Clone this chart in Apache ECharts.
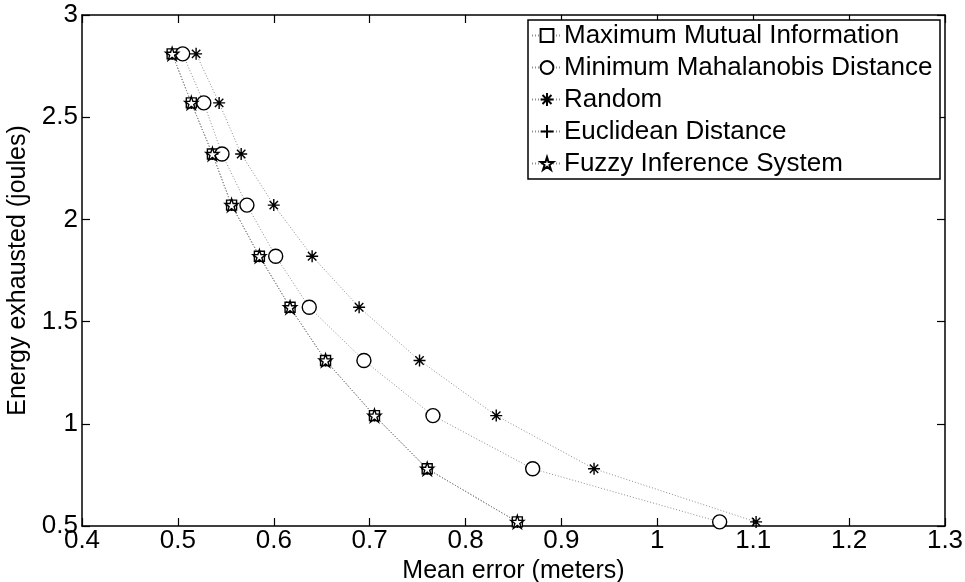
<!DOCTYPE html>
<html>
<head>
<meta charset="utf-8">
<script src="https://cdn.jsdelivr.net/npm/echarts@6/dist/echarts.min.js"></script>
<style>
  html, body { margin: 0; padding: 0; background: #fff; }
  #chart { width: 965px; height: 582px; }
</style>
</head>
<body>
<div id="chart"></div>
<script>
// Energy exhausted (joules) at each operating point
const energy = [2.81, 2.57, 2.32, 2.07, 1.82, 1.57, 1.31, 1.04, 0.78, 0.52];

// Mean error (meters) for each sensor-selection method
const maxMutualInfo   = [0.494, 0.514, 0.536, 0.556, 0.585, 0.617, 0.654, 0.705, 0.760, 0.854];
const minMahalanobis  = [0.505, 0.527, 0.546, 0.572, 0.602, 0.637, 0.694, 0.766, 0.870, 1.065];
const randomSel       = [0.519, 0.543, 0.566, 0.600, 0.640, 0.689, 0.752, 0.832, 0.934, 1.103];
const euclidean       = [0.494, 0.514, 0.536, 0.556, 0.585, 0.617, 0.654, 0.705, 0.760, 0.854];
const fuzzyInference  = [0.494, 0.514, 0.536, 0.556, 0.585, 0.617, 0.654, 0.705, 0.760, 0.854];

const seriesNames = [
  'Maximum Mutual Information',
  'Minimum Mahalanobis Distance',
  'Random',
  'Euclidean Distance',
  'Fuzzy Inference System'
];

const xTicks = { min: 0.4, max: 1.3, step: 0.1 };
const yTicks = { min: 0.5, max: 3, step: 0.5 };

// Marker shapes
const asteriskPath = 'path://M0,-1L0,1M-1,0L1,0M-0.7,-0.7L0.7,0.7M-0.7,0.7L0.7,-0.7';
const plusPath = 'path://M0,-1L0,1M-1,0L1,0';
const starPath = 'path://M0,-1L0.2245,-0.309L0.951,-0.309L0.363,0.118L0.588,0.809L0,0.382L-0.588,0.809L-0.363,0.118L-0.951,-0.309L-0.2245,-0.309Z';

const FONT = 'Liberation Sans, Arial, Helvetica, sans-serif';

function pairs(xs) {
  return xs.map((x, i) => [x, energy[i]]);
}

function makeSeries(name, xs, symbol, size) {
  return {
    name: name,
    type: 'line',
    data: pairs(xs),
    symbol: symbol,
    symbolSize: size,
    showAllSymbol: true,
    xAxisIndex: 0,
    yAxisIndex: 0,
    lineStyle: { color: '#8c8c8c', width: 1, type: [1, 2] },
    itemStyle: { color: '#ffffff', borderColor: '#000000', borderWidth: 1.4 },
    emphasis: { disabled: true },
    animation: false,
    z: 3
  };
}

const chart = echarts.init(document.getElementById('chart'), null, { renderer: 'canvas' });

const axisCommon = {
  type: 'value',
  axisLine: { show: true, onZero: false, lineStyle: { color: '#000', width: 1.5 } },
  axisTick: { show: true, inside: true, length: 8, lineStyle: { color: '#000', width: 1.2 } },
  splitLine: { show: false }
};

chart.setOption({
  backgroundColor: '#ffffff',
  animation: false,
  grid: { left: 82, right: 20, top: 15, bottom: 56, containLabel: false, outerBoundsMode: 'none' },
  xAxis: [
    Object.assign({}, axisCommon, {
      position: 'bottom',
      min: xTicks.min, max: xTicks.max, interval: xTicks.step,
      name: 'Mean error (meters)',
      nameLocation: 'middle',
      nameGap: 28,
      nameTextStyle: { fontFamily: FONT, fontSize: 25, color: '#000' },
      axisLabel: { fontFamily: FONT, fontSize: 26, color: '#000', margin: 2 }
    }),
    Object.assign({}, axisCommon, {
      position: 'top',
      min: xTicks.min, max: xTicks.max, interval: xTicks.step,
      axisLabel: { show: false }
    })
  ],
  yAxis: [
    Object.assign({}, axisCommon, {
      position: 'left',
      min: yTicks.min, max: yTicks.max, interval: yTicks.step,
      name: 'Energy exhausted (joules)',
      nameLocation: 'middle',
      nameGap: 46,
      nameTextStyle: { fontFamily: FONT, fontSize: 25, color: '#000' },
      axisLabel: { fontFamily: FONT, fontSize: 26, color: '#000', margin: 4 }
    }),
    Object.assign({}, axisCommon, {
      position: 'right',
      min: yTicks.min, max: yTicks.max, interval: yTicks.step,
      axisLabel: { show: false }
    })
  ],
  legend: {
    show: true,
    orient: 'vertical',
    left: 531,
    top: 22,
    padding: 0,
    itemWidth: 30,
    itemHeight: 16,
    itemGap: 5,
    selectedMode: false,
    z: 10,
    textStyle: { fontFamily: FONT, fontSize: 26, color: '#000', lineHeight: 27, padding: [0, 0, 0, -3] },
    data: seriesNames
  },
  graphic: [
    {
      type: 'rect',
      shape: { x: 528, y: 20, width: 412, height: 159 },
      style: { fill: '#ffffff', stroke: '#000', lineWidth: 1.5 },
      z: 5,
      silent: true
    }
  ],
  series: [
    makeSeries(seriesNames[0], maxMutualInfo, 'rect', 10),
    makeSeries(seriesNames[1], minMahalanobis, 'circle', 14),
    makeSeries(seriesNames[2], randomSel, asteriskPath, 12),
    makeSeries(seriesNames[3], euclidean, plusPath, 12),
    makeSeries(seriesNames[4], fuzzyInference, starPath, 13)
  ]
});
</script>
</body>
</html>
